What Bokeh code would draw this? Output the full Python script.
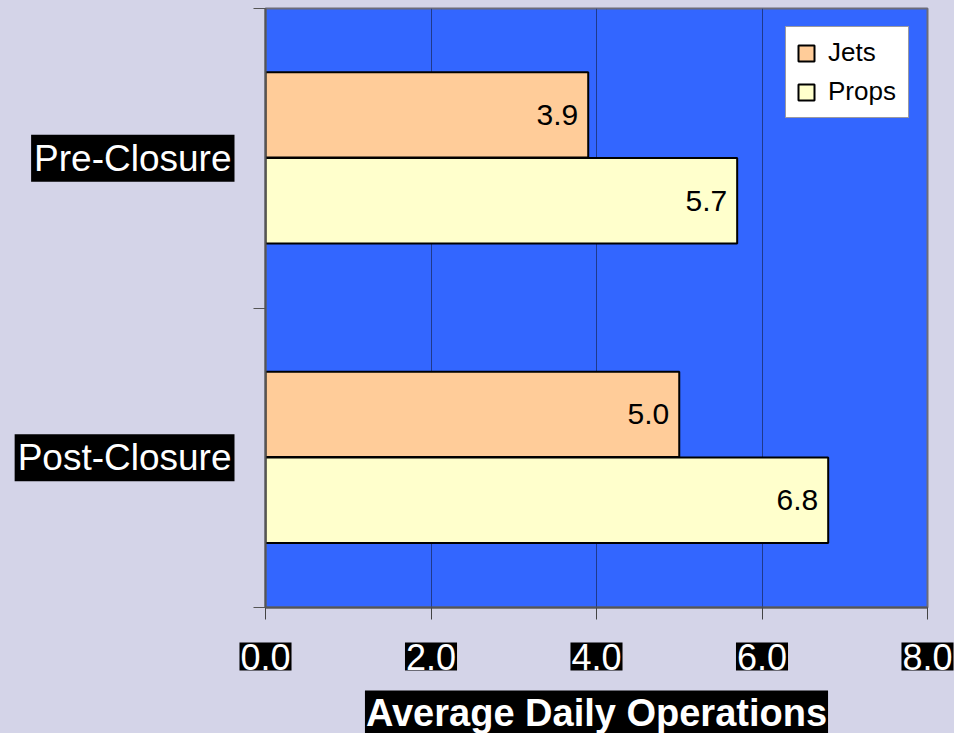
from bokeh.plotting import figure
from bokeh.layouts import column, row
from bokeh.models import Range1d, FixedTicker, LabelSet, Label, ColumnDataSource, Legend, LegendItem
from bokeh.core.properties import value
from bokeh.embed import file_html
from bokeh.resources import INLINE

categories = ["Pre-Closure", "Post-Closure"]
jets = [3.9, 5.0]
props = [5.7, 6.8]
x_ticks = [0, 2, 4, 6, 8]
x_tick_labels = ["0.0", "2.0", "4.0", "6.0", "8.0"]
series_names = ["Jets", "Props"]
x_title = "Average Daily Operations"

BG = "#D4D4E8"
X0, X1 = 0, 8

# layout geometry (pixels)
W, H = 954, 733
LEFT_W = 251
FRAME_L = 265
FRAME_R = 927
TOP = 8
MAIN_H = 621
FRAME_B = 607

n = len(categories)
cat_pos = [n - i - 0.5 for i in range(n)]
bar_h = 0.285
jets_y = [c + 0.145 for c in cat_pos]
props_y = [c - 0.142 for c in cat_pos]

y_range = Range1d(0, n)
x_range = Range1d(X0, X1)

# ---------------- main plot ----------------
p = figure(width=W - LEFT_W, height=MAIN_H, output_backend="svg", toolbar_location=None,
           x_range=x_range, y_range=y_range,
           min_border_left=FRAME_L - LEFT_W, min_border_right=W - FRAME_R,
           min_border_top=TOP, min_border_bottom=MAIN_H - FRAME_B)
p.background_fill_color = "#3366FF"
p.border_fill_color = BG
p.outline_line_color = "#6B6B7A"
p.outline_line_width = 2

src_j = ColumnDataSource(dict(y=jets_y, v=jets, t=[f"{v:.1f}" for v in jets]))
src_p = ColumnDataSource(dict(y=props_y, v=props, t=[f"{v:.1f}" for v in props]))

rj = p.hbar(y="y", left=0, right="v", height=bar_h, source=src_j,
            fill_color="#FFCC99", line_color="black", line_width=2)
rp = p.hbar(y="y", left=0, right="v", height=bar_h, source=src_p,
            fill_color="#FFFFCC", line_color="black", line_width=2)

for s in (src_j, src_p):
    p.add_layout(LabelSet(x="v", y="y", text="t", source=s, x_offset=-10,
                          text_align="right", text_baseline="middle",
                          text_font=value("Liberation Sans"), text_font_size=value("30px"),
                          text_color="black"))

legend = Legend(items=[LegendItem(label=series_names[0], renderers=[rj]),
                       LegendItem(label=series_names[1], renderers=[rp])],
                location="top_right")
legend.margin = 18
legend.padding = 10
legend.spacing = 8
legend.glyph_width = 20
legend.glyph_height = 20
legend.label_standoff = 12
legend.label_width = 70
legend.label_height = 30
legend.label_text_font = "Liberation Sans"
legend.label_text_font_size = "26px"
legend.label_text_color = "black"
legend.border_line_color = "#333344"
legend.border_line_width = 1
legend.background_fill_color = "white"
legend.background_fill_alpha = 1.0
p.add_layout(legend)

p.xaxis.ticker = FixedTicker(ticks=x_ticks, minor_ticks=[])
p.xaxis.major_label_overrides = {t: "" for t in x_ticks}
p.xaxis.major_label_text_font_size = "0px"
p.xaxis.major_label_standoff = 0
p.xaxis.major_tick_out = 12
p.xaxis.major_tick_in = 0
p.xaxis.axis_line_color = "#555555"
p.xaxis.axis_line_width = 2
p.xaxis.major_tick_line_color = "#444444"

p.yaxis.ticker = FixedTicker(ticks=cat_pos, minor_ticks=[0, 1, 2])
p.yaxis.major_label_overrides = {c: "" for c in cat_pos}
p.yaxis.major_label_text_font_size = "0px"
p.yaxis.major_label_standoff = 0
p.yaxis.major_tick_out = 0
p.yaxis.major_tick_in = 0
p.yaxis.minor_tick_out = 12
p.yaxis.minor_tick_in = 0
p.yaxis.minor_tick_line_color = "#555555"
p.yaxis.axis_line_color = "#555555"
p.yaxis.axis_line_width = 2

p.xgrid.ticker = FixedTicker(ticks=x_ticks)
p.xgrid.grid_line_color = "#1F3A8C"
p.xgrid.grid_line_width = 1
p.ygrid.visible = False

# ---------------- category labels strip ----------------
left = figure(width=LEFT_W, height=MAIN_H, output_backend="svg", toolbar_location=None,
              x_range=Range1d(0, 1), y_range=y_range,
              x_axis_location=None, y_axis_location=None,
              min_border_left=0, min_border_right=0,
              min_border_top=TOP, min_border_bottom=MAIN_H - FRAME_B)
left.background_fill_color = None
left.border_fill_color = BG
left.outline_line_color = None
left.grid.visible = False
for c, name in zip(cat_pos, categories):
    left.add_layout(Label(x=1, y=c, text=name, x_offset=-17,
                          text_align="right", text_baseline="middle",
                          text_font="Liberation Sans", text_font_size="37px",
                          text_color="white", background_fill_color="black",
                          padding=3))

# ---------------- x tick labels + title strip ----------------
BOT_H = H - MAIN_H
sc = (FRAME_R - FRAME_L) / (X1 - X0)
bottom = figure(width=W, height=BOT_H, output_backend="svg", toolbar_location=None,
                x_range=Range1d(X0 - FRAME_L / sc, X0 + (W - FRAME_L) / sc),
                y_range=Range1d(BOT_H, 0),
                x_axis_location=None, y_axis_location=None,
                min_border_left=0, min_border_right=0, min_border_top=0, min_border_bottom=0)
bottom.background_fill_color = None
bottom.border_fill_color = BG
bottom.outline_line_color = None
bottom.grid.visible = False
for t, lab in zip(x_ticks, x_tick_labels):
    bottom.add_layout(Label(x=t, y=21, text=lab,
                            text_align="center", text_baseline="top",
                            text_font="Liberation Sans", text_font_size="36px",
                            text_color="white", background_fill_color="black",
                            padding=1))
bottom.add_layout(Label(x=(X0 + X1) / 2, y=69, text=x_title,
                        text_align="center", text_baseline="top",
                        text_font="Liberation Sans", text_font_style="bold",
                        text_font_size="38px",
                        text_color="white", background_fill_color="black",
                        padding=1))

inner = row(left, p, spacing=0, styles={"background-color": BG})
layout = column(inner, bottom, spacing=0, styles={"background-color": BG})
open("out.html", "w").write(file_html(layout, INLINE))
